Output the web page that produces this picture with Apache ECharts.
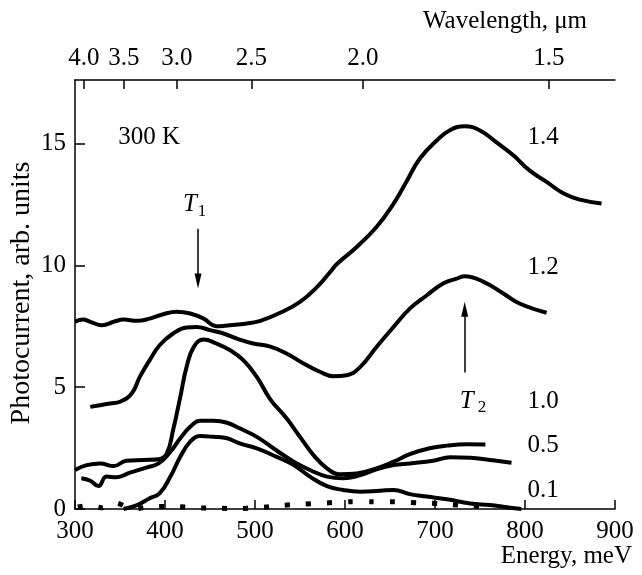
<!DOCTYPE html>
<html>
<head>
<meta charset="utf-8">
<script src="https://cdn.jsdelivr.net/npm/echarts@6/dist/echarts.min.js"></script>
<style>
html,body{margin:0;padding:0;background:#fff;}
#chart{width:642px;height:575px;}
</style>
</head>
<body>
<div id="chart"></div>
<script>
// ---- Data (Energy in meV, photocurrent in arb. units) ----
const energy14 = [300,309,317,330,343,354,369,383,398,413,428,443,457,472,491,506,528,550,569,583,591,613,635,654,669,683,702,717,733,750,768,787,805,824,843,861,885];
const photo14  = [7.68,7.77,7.68,7.54,7.68,7.77,7.72,7.81,7.99,8.09,8.02,7.81,7.50,7.54,7.61,7.72,8.05,8.50,9.11,9.70,10.05,10.75,11.57,12.53,13.48,14.37,15.12,15.55,15.70,15.53,15.05,14.51,13.89,13.42,12.94,12.69,12.53];

const energy12 = [317,328,339,350,363,372,383,394,409,424,435,450,465,480,498,517,535,554,572,587,602,617,635,654,672,691,709,724,733,754,776,794,824];
const photo12  = [4.19,4.26,4.33,4.40,4.74,5.42,6.11,6.72,7.20,7.45,7.47,7.34,7.20,6.99,6.79,6.66,6.38,5.97,5.63,5.45,5.49,5.83,6.65,7.47,8.22,8.77,9.25,9.45,9.55,9.32,8.84,8.43,8.05];

const energy10 = [300,313,328,343,357,376,393,402,409,417,424,432,443,457,472,487,502,517,535,550,565,580,594,613,635,654,672,694,713,735,756];
const photo10  = [1.60,1.80,1.87,1.76,1.98,2.01,2.04,2.28,3.24,4.60,5.83,6.65,6.95,6.79,6.52,6.11,5.42,4.50,3.72,2.96,2.21,1.67,1.43,1.46,1.67,1.94,2.25,2.49,2.60,2.66,2.65];

const energy05 = [307,317,326,335,346,361,380,393,406,417,428,439,454,469,483,502,524,543,561,580,598,617,635,654,672,698,717,739,761,785];
const photo05  = [1.26,1.16,0.94,1.33,1.30,1.49,1.71,1.87,2.35,2.90,3.37,3.62,3.62,3.54,3.31,2.96,2.40,1.94,1.60,1.33,1.26,1.39,1.63,1.80,1.87,1.98,2.12,2.10,2.01,1.90];

const energy01 = [354,369,383,394,406,417,428,439,454,469,483,502,524,543,561,580,598,617,639,654,672,691,713,739,761,780,796];
const photo01  = [0.00,0.16,0.44,0.64,1.33,2.14,2.76,2.99,2.96,2.90,2.69,2.49,2.14,1.80,1.33,0.94,0.78,0.71,0.75,0.78,0.61,0.51,0.40,0.23,0.16,0.07,0.00];

const energyDot = [303,315,330,345,365,385,410,435,460,485,505,530,555,580,605,630,655,680,705,730,755];
const photoDot  = [0.08,0.15,0.05,0.25,0.00,0.10,0.10,0.05,0.03,0.02,0.05,0.15,0.20,0.25,0.30,0.30,0.30,0.25,0.22,0.15,0.10];

const energyTicks = [300,400,500,600,700,800,900];
const photoTicks = [0,5,10,15];
const wavelengthTicks = [4.0,3.5,3.0,2.5,2.0,1.5]; // µm, top axis
const curveLabels = ['1.4','1.2','1.0','0.5','0.1'];
const curveLabelY = [15.25, 9.92, 4.43, 2.62, 0.78];

const HC = 1239.84; // meV·µm
const FONT = 'Liberation Serif';

function pairs(xs, ys){ return xs.map((x,i)=>[x, ys[i]]); }

const chart = echarts.init(document.getElementById('chart'), null, {renderer:'canvas'});

function curve(xs, ys, extra){
  return Object.assign({
    type:'line', data:pairs(xs,ys), showSymbol:false, smooth:0.45,
    lineStyle:{color:'#000', width:4}, itemStyle:{color:'#000'},
    xAxisIndex:0, yAxisIndex:0, silent:true, animation:false, z:3
  }, extra||{});
}

const axisLineStyle = {color:'#000', width:1.5};
const labelStyle = {color:'#000', fontFamily:FONT, fontSize:25};

const option = {
  animation:false,
  backgroundColor:'#fff',
  grid:{left:75, right:27, top:80, bottom:66, containLabel:false},
  xAxis:[{
    type:'value', position:'bottom', min:300, max:900, interval:100,
    axisLine:{show:true, lineStyle:axisLineStyle},
    axisTick:{show:true, inside:true, length:9, lineStyle:axisLineStyle},
    axisLabel:Object.assign({margin:10, customValues:energyTicks}, labelStyle),
    splitLine:{show:false}
  },{
    type:'value', position:'top', min:300, max:900,
    axisLine:{show:true, lineStyle:axisLineStyle},
    axisTick:{show:true, inside:true, length:9, lineStyle:axisLineStyle,
      customValues: wavelengthTicks.map(l=>HC/l)},
    axisLabel:Object.assign({margin:9,
      customValues: wavelengthTicks.map(l=>HC/l),
      formatter: v => (HC/v).toFixed(1)}, labelStyle),
    splitLine:{show:false}
  }],
  yAxis:[{
    type:'value', min:0, max:17.6, interval:5,
    axisLine:{show:true, lineStyle:axisLineStyle},
    axisTick:{show:true, inside:true, length:10, lineStyle:axisLineStyle, customValues:photoTicks},
    axisLabel:Object.assign({margin:9, customValues:photoTicks}, labelStyle),
    splitLine:{show:false}
  }],
  series:[
    curve(energy14, photo14),
    curve(energy12, photo12),
    curve(energy10, photo10, {
      markLine:{
        silent:true, symbol:['none','triangle'], symbolSize:[7,15],
        label:{show:false}, lineStyle:{color:'#000', width:1.5, type:'solid'},
        data:[
          [{coord:[436.7,11.5]},{coord:[436.7,9.35]}],
          [{coord:[733,5.6]},{coord:[733,8.2]}]
        ]
      }
    }),
    curve(energy05, photo05),
    curve(energy01, photo01),
    curve(energyDot, photoDot, {smooth:0.2, lineStyle:{color:'#000', width:5, type:[5,16]}})
  ]
};
chart.setOption(option);

function px(x,y){ return chart.convertToPixel({xAxisIndex:0, yAxisIndex:0}, [x,y]); }
const g = [];
function txt(x,y,text,opts){
  g.push({type:'text', x:x, y:y, silent:true, z:10,
    style:Object.assign({text:text, fill:'#000', font:'25px "'+FONT+'"', textAlign:'left', textVerticalAlign:'middle'}, opts||{})});
}
// curve labels
curveLabels.forEach((t,i)=>{ const p = px(820, curveLabelY[i]); txt(p[0], p[1], t, {textAlign:'center'}); });
// 300 K
let p = px(348, 15.25); txt(p[0], p[1], '300 K');
// T1
p = px(420, 12.5); txt(p[0], p[1], 'T', {font:'italic 25px "'+FONT+'"'});
p = px(436.5, 12.2); txt(p[0], p[1], '1', {font:'17px "'+FONT+'"'});
// T2
p = px(727.5, 4.43); txt(p[0], p[1], 'T', {font:'italic 25px "'+FONT+'"'});
p = px(747.5, 4.15); txt(p[0], p[1], '2', {font:'17px "'+FONT+'"'});
// axis titles
txt(632, 556, 'Energy, meV', {textAlign:'right'});
txt(505, 21, 'Wavelength, \u03bcm', {textAlign:'center'});
g.push({type:'text', x:22, y:293, rotation:Math.PI/2, silent:true,
  style:{text:'Photocurrent, arb. units', fill:'#000', font:'28px "'+FONT+'"', textAlign:'center', textVerticalAlign:'middle'}});
chart.setOption({graphic:g});
</script>
</body>
</html>
